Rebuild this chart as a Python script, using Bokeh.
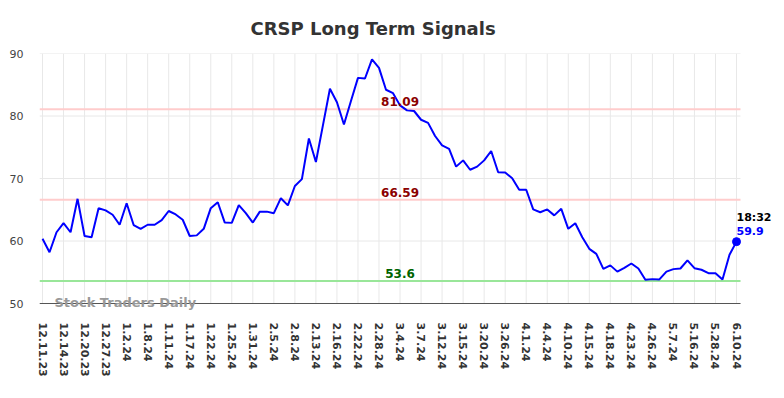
from bokeh.plotting import figure
from bokeh.models import Label, FixedTicker, Range1d, Title
from bokeh.embed import file_html
from bokeh.resources import INLINE

dates = ["12.11.23", "12.14.23", "12.20.23", "12.27.23", "1.2.24", "1.8.24", "1.11.24",
         "1.17.24", "1.22.24", "1.25.24", "1.31.24", "2.5.24", "2.8.24", "2.13.24",
         "2.16.24", "2.22.24", "2.28.24", "3.4.24", "3.7.24", "3.12.24", "3.15.24",
         "3.20.24", "3.26.24", "4.1.24", "4.4.24", "4.10.24", "4.15.24", "4.18.24",
         "4.23.24", "4.26.24", "5.7.24", "5.16.24", "5.28.24", "6.10.24"]

values = [60.35, 58.2, 61.4, 62.85, 61.4, 66.75, 60.8, 60.6, 65.25, 64.9,
          64.2, 62.6, 66.05, 62.55, 61.95, 62.6, 62.6, 63.35, 64.8, 64.25,
          63.4, 60.8, 60.9, 61.95, 65.25, 66.2, 62.95, 62.9, 65.75, 64.45,
          62.95, 64.7, 64.7, 64.45, 66.85, 65.7, 68.8, 69.9, 76.4, 72.65,
          78.5, 84.35, 82.2, 78.65, 82.4, 86.1, 86.0, 89.05, 87.7, 84.2,
          83.65, 81.7, 80.9, 80.8, 79.4, 78.9, 76.8, 75.3, 74.75, 71.9,
          72.9, 71.4, 71.9, 72.9, 74.4, 71.0, 70.95, 70.05, 68.2, 68.2,
          65.05, 64.6, 65.05, 64.1, 65.15, 61.95, 62.85, 60.6, 58.75, 57.95,
          55.55, 56.1, 55.1, 55.7, 56.4, 55.6, 53.8, 53.9, 53.85, 55.1,
          55.5, 55.6, 56.9, 55.65, 55.4, 54.85, 54.85, 53.85, 57.8, 59.9]

levels = [81.09, 66.59, 53.6]
level_labels = ["81.09", "66.59", "53.6"]
y_ticks = [50, 60, 70, 80, 90]
last_time = "18:32"
last_label = "59.9"

xs = list(range(len(values)))
tick_idx = list(range(0, len(values), 3))
n = len(values)
x_lo = -0.43
x_hi = (n - 1) + 0.57

FONT = "DejaVu Sans"

p = figure(width=776, height=390, output_backend="svg", toolbar_location=None,
           x_range=Range1d(x_lo, x_lo + 737 / 7.0101), y_range=Range1d(48.4, 90),
           min_border_left=39, min_border_right=0, min_border_top=53,
           min_border_bottom=77)
p.outline_line_color = None
p.background_fill_color = "white"
p.xgrid.visible = False
p.ygrid.visible = False

t = Title(text="CRSP Long Term Signals", align="left", offset=211, standoff=29,
          text_font=FONT, text_font_size="18px", text_font_style="bold",
          text_color="#333333")
p.add_layout(t, "above")

p.xaxis.ticker = FixedTicker(ticks=tick_idx)
p.xaxis.major_label_overrides = {i: d for i, d in zip(tick_idx, dates)}
p.xaxis.major_label_orientation = "vertical"
p.xaxis.major_label_text_font = FONT
p.xaxis.major_label_text_font_size = "11px"
p.xaxis.major_label_text_font_style = "bold"
p.xaxis.major_label_text_color = "#333333"
p.xaxis.major_label_standoff = 9
p.xaxis.major_tick_out = 0
p.xaxis.major_tick_in = 0
p.xaxis.minor_tick_out = 0
p.xaxis.minor_tick_in = 0
p.xaxis.axis_line_color = None

p.yaxis.ticker = FixedTicker(ticks=y_ticks)
p.yaxis.major_label_text_font = FONT
p.yaxis.major_label_text_font_size = "11px"
p.yaxis.major_label_text_color = "#444444"
p.yaxis.major_label_standoff = 16
p.yaxis.axis_line_color = None
p.yaxis.major_tick_out = 0
p.yaxis.major_tick_in = 0
p.yaxis.minor_tick_out = 0
p.yaxis.minor_tick_in = 0

grid_color = "#e8e8e8"
# vertical grid lines at the date ticks
p.segment(x0=tick_idx, y0=[y_ticks[0]] * len(tick_idx), x1=tick_idx,
          y1=[y_ticks[-1]] * len(tick_idx), line_color=grid_color, line_width=1)
# horizontal grid lines
p.segment(x0=[x_lo] * len(y_ticks), y0=y_ticks, x1=[x_hi] * len(y_ticks), y1=y_ticks,
          line_color=grid_color, line_width=1)

line_colors = ["#ffcccc", "#ffcccc", "#99e699"]
text_colors = ["#8b0000", "#8b0000", "#006400"]
p.segment(x0=[x_lo] * len(levels), y0=levels, x1=[x_hi] * len(levels), y1=levels,
          line_color=line_colors, line_width=2)
for lv, lab, tc in zip(levels, level_labels, text_colors):
    p.add_layout(Label(x=51, y=lv, text=lab, text_align="center",
                       text_baseline="bottom", y_offset=3,
                       text_font=FONT, text_font_size="12px",
                       text_font_style="bold", text_color=tc))

# x axis baseline
p.segment(x0=[x_lo], y0=[y_ticks[0]], x1=[x_hi], y1=[y_ticks[0]],
          line_color="#555555", line_width=1)

p.line(xs, values, line_color="#0000ff", line_width=2)
p.scatter([xs[-1]], [values[-1]], size=8, fill_color="#0000ff", line_color="#0000ff")

p.add_layout(Label(x=xs[-1], y=values[-1], text=last_time, text_align="left",
                   text_baseline="middle", y_offset=24, text_font=FONT,
                   text_font_size="11px", text_font_style="bold", text_color="#000000"))
p.add_layout(Label(x=xs[-1], y=values[-1], text=last_label, text_align="left",
                   text_baseline="middle", y_offset=11, text_font=FONT,
                   text_font_size="11px", text_font_style="bold", text_color="#0000ff"))

p.add_layout(Label(x=1.7, y=50, text="Stock Traders Daily", text_align="left",
                   text_baseline="middle", y_offset=1, text_font=FONT,
                   text_font_size="13px", text_font_style="bold",
                   text_color="#999999"))

open("out.html", "w").write(file_html(p, INLINE))
